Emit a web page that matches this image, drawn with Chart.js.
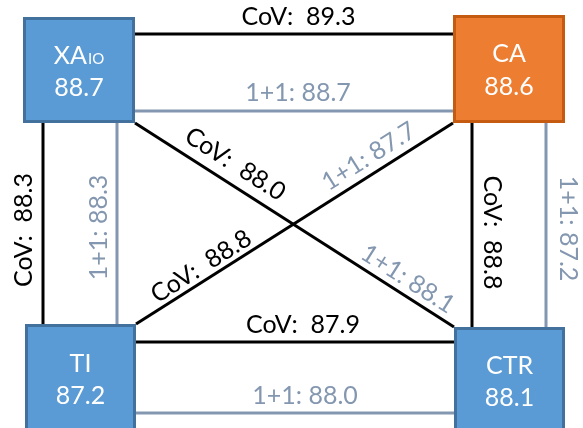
<!DOCTYPE html>
<html>
<head>
<meta charset="utf-8">
<script src="https://cdn.jsdelivr.net/npm/chart.js@4.4.1/dist/chart.umd.min.js"></script>
<style>
  html, body { margin: 0; padding: 0; background: #ffffff; }
  #wrap { width: 583px; height: 428px; }
</style>
</head>
<body>
<div id="wrap"><canvas id="c" width="583" height="428"></canvas></div>
<script>
// ---- data ----
const nodeNames = ['XA', 'CA', 'TI', 'CTR'];
const nodeSubscripts = ['IO', '', '', ''];
const nodeScores = [88.7, 88.6, 87.2, 88.1];
const edgePairs = [['XA','CA'], ['XA','TI'], ['CA','CTR'], ['TI','CTR'], ['XA','CTR'], ['CA','TI']];
const covScores = [89.3, 88.3, 88.8, 87.9, 88.0, 88.8];
const onePlusOneScores = [88.7, 88.3, 87.2, 88.0, 88.1, 87.7];

// ---- layout (positions in chart units) ----
const nodeBoxes = { XA: [23, 17, 135, 123], CA: [453, 15, 565, 123], TI: [25, 324, 136, 440], CTR: [454, 327, 565, 440] };
const nodeTextY = { XA: [55, 87], CA: [52.5, 86], TI: [363, 395], CTR: [365, 397] };
const covSegments = [
  [[135, 34], [453, 34]],
  [[43, 123], [43, 324]],
  [[472, 123], [472, 327]],
  [[136, 342], [454, 342]],
  [[135, 123], [454, 327]],
  [[136, 324], [453, 123]]
];
const onePlusSegments = [
  [[135, 111], [453, 111]],
  [[117, 123], [117, 324]],
  [[546, 123], [546, 327]],
  [[136, 413], [454, 413]],
  null,
  null
];
// label centers; rotation in degrees or 'line' (follow the edge line)
const covLabelPos = [[298.5, 15.5, 0], [22.5, 230, -90], [492.5, 232.5, 90], [303, 323.5, 0], [235.7, 163.3, 'line'], [200.7, 265.7, 'line']];
const oneLabelPos = [[298, 92, 0], [98, 227.5, -90], [569, 228.5, 90], [305, 395, 0], [408.3, 278.3, 'line'], [368.3, 155.7, 'line']];

// ---- styles ----
const BLACK = '#000000';
const GREY = '#8497b0';
const FONT = 'Lato, "Open Sans", sans-serif';
const FS = 25;
const CAP = 0.72;
const nodeFill = { XA: '#5b9bd5', CA: '#ed7d31', TI: '#5b9bd5', CTR: '#5b9bd5' };
const nodeStroke = { XA: '#41719c', CA: '#c55a11', TI: '#41719c', CTR: '#41719c' };

const datasets = [];
edgePairs.forEach((p, i) => {
  datasets.push({
    label: 'CoV ' + p.join('-'),
    data: covSegments[i].map(pt => ({ x: pt[0], y: pt[1] })),
    showLine: true, borderColor: BLACK, borderWidth: 3, pointRadius: 0, fill: false
  });
  if (onePlusSegments[i]) {
    datasets.push({
      label: '1+1 ' + p.join('-'),
      data: onePlusSegments[i].map(pt => ({ x: pt[0], y: pt[1] })),
      showLine: true, borderColor: GREY, borderWidth: 3, pointRadius: 0, fill: false
    });
  }
});

function drawText(ctx, text, px, py, ang, color, size) {
  ctx.save();
  ctx.translate(px, py);
  ctx.rotate(ang);
  ctx.fillStyle = color;
  ctx.font = size + 'px ' + FONT;
  ctx.textAlign = 'center';
  ctx.textBaseline = 'alphabetic';
  ctx.fillText(text, 0, size * CAP / 2);
  ctx.restore();
}

const diagramPlugin = {
  id: 'diagram',
  afterDatasetsDraw(chart) {
    const ctx = chart.ctx;
    const xs = chart.scales.x, ys = chart.scales.y;
    const X = v => xs.getPixelForValue(v), Y = v => ys.getPixelForValue(v);

    // edge labels
    const fmt = v => v.toFixed(1);
    edgePairs.forEach((p, i) => {
      const seg = covSegments[i];
      let a = seg[0], b = seg[1];
      if (X(a[0]) > X(b[0])) { const t = a; a = b; b = t; }
      const lineAng = Math.atan2(Y(b[1]) - Y(a[1]), X(b[0]) - X(a[0]));
      const cl = covLabelPos[i];
      const ca = cl[2] === 'line' ? lineAng : cl[2] * Math.PI / 180;
      drawText(ctx, 'CoV:  ' + fmt(covScores[i]), X(cl[0]), Y(cl[1]), ca, BLACK, FS);
      const ol = oneLabelPos[i];
      const oa = ol[2] === 'line' ? lineAng : ol[2] * Math.PI / 180;
      drawText(ctx, '1+1: ' + fmt(onePlusOneScores[i]), X(ol[0]), Y(ol[1]), oa, GREY, FS);
    });

    // node boxes
    nodeNames.forEach((n, i) => {
      const bx = nodeBoxes[n];
      const x0 = X(bx[0]), y0 = Y(bx[1]), x1 = X(bx[2]), y1 = Y(bx[3]);
      ctx.save();
      ctx.fillStyle = nodeFill[n];
      ctx.fillRect(x0, y0, x1 - x0, y1 - y0);
      ctx.strokeStyle = nodeStroke[n];
      ctx.lineWidth = 3;
      ctx.strokeRect(x0 + 1.5, y0 + 1.5, x1 - x0 - 3, y1 - y0 - 3);
      ctx.restore();

      const cx = (x0 + x1) / 2;
      const ty = nodeTextY[n];
      ctx.save();
      ctx.fillStyle = '#ffffff';
      ctx.textBaseline = 'alphabetic';
      ctx.textAlign = 'left';
      const sub = nodeSubscripts[i];
      ctx.font = FS + 'px ' + FONT;
      const w1 = ctx.measureText(n).width;
      let w2 = 0;
      const subSize = 15;
      if (sub) { ctx.font = subSize + 'px ' + FONT; w2 = ctx.measureText(sub).width + 1; }
      const start = cx - (w1 + w2) / 2;
      const base = Y(ty[0]) + FS * CAP / 2;
      ctx.font = FS + 'px ' + FONT;
      ctx.fillText(n, start, base);
      if (sub) { ctx.font = subSize + 'px ' + FONT; ctx.fillText(sub, start + w1 + 1, base); }
      ctx.restore();
      drawText(ctx, nodeScores[i].toFixed(1), cx, Y(ty[1]), 0, '#ffffff', FS);
    });
  }
};

new Chart(document.getElementById('c'), {
  type: 'scatter',
  data: { datasets },
  options: {
    responsive: false,
    devicePixelRatio: 1,
    animation: false,
    layout: { padding: 0 },
    plugins: { legend: { display: false }, tooltip: { enabled: false } },
    scales: {
      x: { type: 'linear', min: 0, max: 583, display: false },
      y: { type: 'linear', min: 0, max: 428, reverse: true, display: false }
    }
  },
  plugins: [diagramPlugin]
});
</script>
</body>
</html>
